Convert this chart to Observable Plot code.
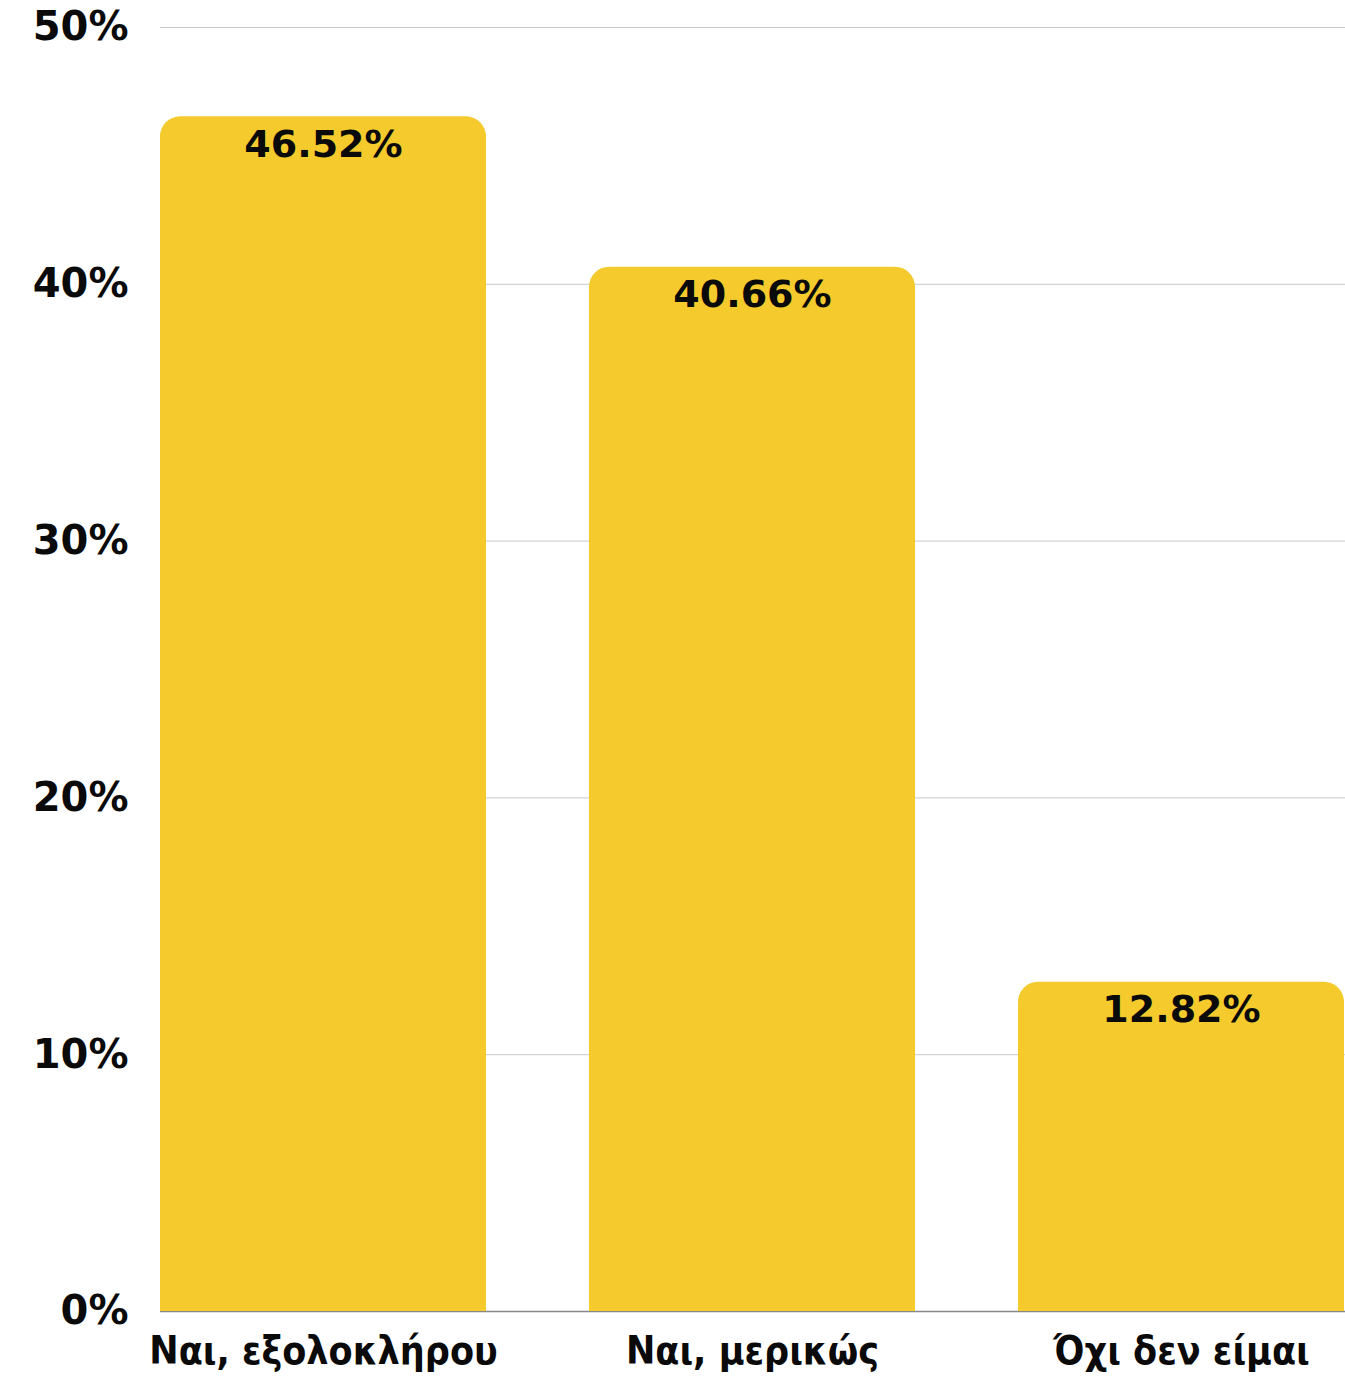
<!DOCTYPE html>
<html>
<head>
<meta charset="utf-8">
<script src="https://cdn.jsdelivr.net/npm/d3@7"></script>
<script src="https://cdn.jsdelivr.net/npm/@observablehq/plot@0.6"></script>
<style>
  html, body { margin: 0; padding: 0; background: #fff; }
  #chart { width: 1345px; height: 1378px; }
</style>
</head>
<body>
<div id="chart"></div>
<script>
const categories = ["Ναι, εξολοκλήρου", "Ναι, μερικώς", "Όχι δεν είμαι"];
const values = [46.52, 40.66, 12.82];
const valueLabels = ["46.52%", "40.66%", "12.82%"];
const yTicks = [0, 10, 20, 30, 40, 50];

const data = categories.map((c, i) => ({ category: c, value: values[i], label: valueLabels[i] }));

const barColor = "#F5CA2D";
const textColor = "#0a0a0a";
const font = "'DejaVu Sans', Verdana, sans-serif";

const chart = Plot.plot({
  width: 1345,
  height: 1378,
  marginLeft: 160,
  marginRight: 0,
  marginTop: 27,
  marginBottom: 67,
  style: { fontFamily: font, background: "#fff", overflow: "visible" },
  x: { domain: categories, paddingInner: 0.24, paddingOuter: 0, label: null },
  y: { domain: [0, 50], label: null },
  marks: [
    Plot.ruleY(yTicks.filter(d => d > 0), { stroke: "#c8c8c8", strokeWidth: 1 }),
    Plot.ruleY([0], { stroke: "#888888", strokeWidth: 1.5 }),
    Plot.barY(data, { x: "category", y: "value", fill: barColor, rx: 20 }),
    Plot.barY(data, { x: "category", y1: 0, y2: d => d.value / 2, fill: barColor }),
    Plot.text(data, {
      x: "category", y: "value", text: "label",
      lineAnchor: "top", dy: 13, fontSize: 38, fontWeight: "bold", fill: textColor
    }),
    Plot.axisY(yTicks, {
      tickSize: 0, tickPadding: 32, tickFormat: d => d + "%",
      fontSize: 40, fontWeight: "bold", fill: textColor, label: null
    }),
    Plot.axisX({
      tickSize: 0, tickPadding: 25, fontSize: 39, fontWeight: "bold",
      fill: textColor, label: null,
      fontFamily: "'DejaVu Sans Condensed', 'DejaVu Sans', sans-serif"
    })
  ]
});

document.getElementById("chart").appendChild(chart);
</script>
</body>
</html>
